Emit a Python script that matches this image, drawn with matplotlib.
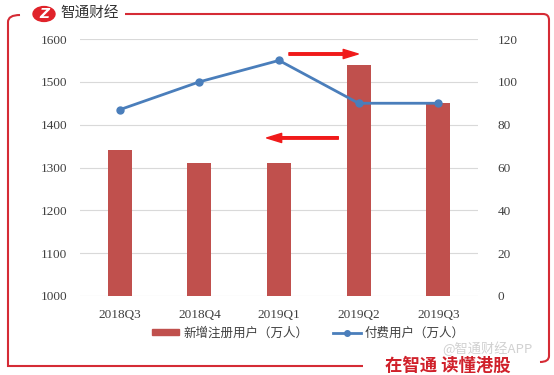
import matplotlib
matplotlib.use("Agg")
import matplotlib.pyplot as plt
from matplotlib.path import Path
from matplotlib.patches import PathPatch, Circle, FancyArrowPatch
from matplotlib.lines import Line2D
from matplotlib.patches import Patch

categories = ["2018Q3", "2018Q4", "2019Q1", "2019Q2", "2019Q3"]
new_users = [1340, 1310, 1310, 1540, 1450]
paid_users = [87, 100, 110, 90, 90]
left_ticks = [1000, 1100, 1200, 1300, 1400, 1500, 1600]
right_ticks = [0, 20, 40, 60, 80, 100, 120]
label_bar = "新增注册用户（万人）"
label_line = "付费用户（万人）"

serif = ["Liberation Serif", "DejaVu Serif"]
cjk = ["Noto Sans CJK SC", "DejaVu Sans"]
plt.rcParams["font.family"] = serif

W, H = 554, 375
fig = plt.figure(figsize=(W / 100, H / 100), dpi=100)
fig.patch.set_facecolor("white")

def fx(x):
    return x / W

def fy(y):
    return 1 - y / H

ax = fig.add_axes([fx(80), fy(296), fx(478) - fx(80), fy(39) - fy(296)])
ax2 = ax.twinx()

x = list(range(len(categories)))
ax.bar(x, new_users, width=0.3, color="#c0504d", zorder=2)
ax.set_ylim(1000, 1600)
ax.set_yticks(left_ticks)
ax.set_xlim(-0.5, len(categories) - 0.5)
ax.set_xticks(x)
ax.set_xticklabels(categories)
ax.yaxis.grid(True, color="#d9d9d9", linewidth=0.8, zorder=0)
ax.set_axisbelow(True)
for s in ax.spines.values():
    s.set_visible(False)
ax.tick_params(length=0, labelsize=9.5, colors="#404040", pad=9)

ax2.plot(x, paid_users, color="#4a7ebb", linewidth=2, marker="o", markersize=5, zorder=3)
ax2.set_ylim(0, 120)
ax2.set_yticks(right_ticks)
for s in ax2.spines.values():
    s.set_visible(False)
ax2.tick_params(length=0, labelsize=9.5, colors="#404040", pad=14)

# annotation arrows
style = "simple,head_width=0.55,head_length=0.9,tail_width=0.15"
arr1 = FancyArrowPatch((2.09, 1565), (3.03, 1565), transform=ax.transData,
                       arrowstyle=style, mutation_scale=12, color="#f01a1a", zorder=5)
arr2 = FancyArrowPatch((2.78, 1369), (1.81, 1369), transform=ax.transData,
                       arrowstyle=style, mutation_scale=12, color="#f01a1a", zorder=5)
ax.add_patch(arr1)
ax.add_patch(arr2)

# legend
handles = [Patch(color="#c0504d"),
           Line2D([0], [0], color="#4a7ebb", linewidth=2, marker="o", markersize=4)]
fig.legend(handles, [label_bar, label_line], loc="center", bbox_to_anchor=(fx(308), fy(333)),
           ncol=2, frameon=False, prop={"family": cjk, "size": 9}, handlelength=2.2,
           handleheight=0.45, columnspacing=2.0, handletextpad=0.3, labelcolor="#404040")

# frame border
red = "#d52b35"
verts = [(20, 15), (8, 15), (8, 22), (8, 366), (363, 366)]
codes = [Path.MOVETO, Path.CURVE3, Path.CURVE3, Path.LINETO, Path.LINETO]
p = Path([(fx(a), fy(b)) for a, b in verts], codes)
fig.add_artist(PathPatch(p, fill=False, edgecolor=red, linewidth=1.5, transform=fig.transFigure))
verts2 = [(125, 14), (543, 14), (549, 14), (549, 20), (549, 356), (549, 362), (540, 362)]
codes2 = [Path.MOVETO, Path.LINETO, Path.CURVE3, Path.CURVE3, Path.LINETO, Path.CURVE3, Path.CURVE3]
p2 = Path([(fx(a), fy(b)) for a, b in verts2], codes2)
fig.add_artist(PathPatch(p2, fill=False, edgecolor=red, linewidth=1.5, transform=fig.transFigure))

# logo
fig.add_artist(Circle((fx(44), fy(14)), 11 / W, transform=fig.transFigure, color="#e0232a"))
fig.text(fx(44), fy(14), "Z", color="white", fontsize=10, fontweight="bold",
         ha="center", va="center", fontstyle="italic", family=["DejaVu Sans"])
fig.text(fx(60), fy(14), "智通财经", fontfamily=cjk, fontsize=10.5, color="#333333",
         ha="left", va="center")

# bottom slogan and watermark
fig.text(fx(385), fy(366), "在智通 读懂港股", fontfamily=cjk, fontsize=12.5, fontweight="bold",
         color="#d0202a", ha="left", va="center")
fig.text(fx(442), fy(349), "@智通财经APP", fontfamily=cjk, fontsize=9.5, color="#cccccc",
         ha="left", va="center", alpha=0.9)

fig.savefig("out.png", dpi=100)
